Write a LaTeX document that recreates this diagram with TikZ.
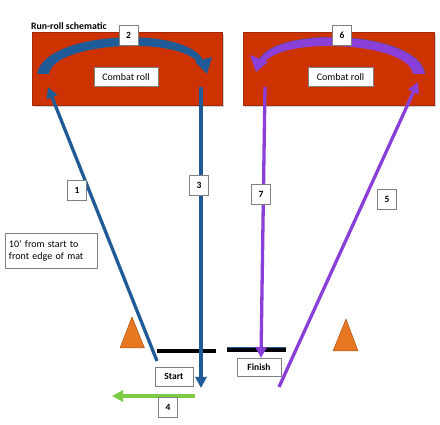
\documentclass[tikz,border=0pt]{standalone}
\usepackage{fontspec}
\setmainfont{Carlito}
\usetikzlibrary{arrows.meta,shadows}
\definecolor{matred}{HTML}{CC3300}
\definecolor{runblue}{HTML}{1F5B96}
\definecolor{runpurple}{HTML}{8B3FD9}
\definecolor{cone}{HTML}{E87722}
\definecolor{coneedge}{HTML}{B0560F}
\definecolor{rungreen}{HTML}{7DCB45}
\definecolor{boxedge}{HTML}{808080}
\begin{document}
\begin{tikzpicture}[x=1pt,y=-1pt,
  mat/.style={fill=matred,draw=matred!80!black,line width=0.4pt,drop shadow={shadow xshift=1.5pt,shadow yshift=-1.5pt,opacity=0.35}},
  lbl/.style={draw=boxedge,fill=white,line width=0.5pt,inner sep=0pt,font=\fontsize{10}{12}\selectfont},
  numbox/.style={lbl,font=\fontsize{9.5}{11}\selectfont\bfseries,minimum width=19pt,minimum height=20pt},
  runline/.style={line width=3.3pt,-{Triangle[length=11pt,width=11pt]}},
  bar/.style={line width=4pt},
  conestyle/.style={fill=cone,draw=coneedge,line width=0.5pt,line join=round}]
\useasboundingbox (0,0) rectangle (440,425);
% mats
\node[mat,minimum width=190pt,minimum height=73pt,inner sep=0pt] (matL) at (127,69) {};
\node[mat,minimum width=191pt,minimum height=73pt,inner sep=0pt] (matR) at (338.5,69) {};
\node[anchor=south west,inner sep=0pt,font=\fontsize{9.8}{11}\selectfont\bfseries] (title) at (31,29.5) {Run-roll schematic};
% arc 2 (blue, tapered)
\fill[runblue] (37,74) .. controls (44,31) and (185,25) .. (203,60)
   -- (198,63) .. controls (180,36) and (53,42) .. (49,74) -- cycle;
\fill[runblue] (207,74) -- (195,62) -- (212,57) -- cycle;
% arc 6 (purple, tapered)
\fill[runpurple] (425,74) .. controls (418,31) and (277,25) .. (259,60)
   -- (264,63) .. controls (282,36) and (409,42) .. (413,74) -- cycle;
\fill[runpurple] (256,72) -- (250,55) -- (268,62) -- cycle;
\draw[runblue!70!runpurple,line width=0.4pt] (425,74) .. controls (418,31) and (277,25) .. (259,60);
% combat roll labels
\node[lbl,minimum width=64pt,minimum height=19pt] (crL) at (126,77) {Combat roll};
\node[lbl,minimum width=65pt,minimum height=19pt] (crR) at (340.5,77) {Combat roll};
\node[numbox] (n2) at (128.5,35.5) {2};
\node[numbox] (n6) at (342,35) {6};
% endpoints
\coordinate (s1) at (157,361);
\coordinate (e1) at (48,87);
\coordinate (s3) at (201,87);
\coordinate (e3) at (201,388);
\coordinate (s7) at (265,87);
\coordinate (e7) at (261,358);
\coordinate (s5) at (279,387);
\coordinate (e5) at (418,82);
\coordinate (s4) at (195,396);
\coordinate (e4) at (112,396);
% cones
\draw[conestyle] (132,317) -- (144.5,348) -- (120,348) -- cycle;
\draw[conestyle] (346,319) -- (358,351) -- (333,351) -- cycle;
% bars
\coordinate (bl1) at (157,351);
\coordinate (bl2) at (216,351);
\coordinate (br1) at (227,350);
\coordinate (br2) at (286,350);
\draw[bar,black] (bl1) -- (bl2);
\draw[runblue,line width=5pt] (br1) -- (br2);
\draw[black,line width=3.6pt] (br1) -- (br2);
% runs
\draw[runline,runblue] (s1) -- (e1);
\draw[runline,runblue] (s3) -- (e3);
\draw[runline,runpurple] (s7) -- (e7);
\draw[runline,runpurple] (s5) -- (e5);
\draw[runline,rungreen] (s4) -- (e4);
% number labels
\node[numbox] (n1) at (77,190) {1};
\node[numbox] (n3) at (199,185.5) {3};
\node[numbox] (n7) at (261,194) {7};
\node[numbox] (n5) at (387,199) {5};
\node[numbox] (n4) at (168,407) {4};
% start / finish
\node[lbl,font=\fontsize{9.5}{11}\selectfont\bfseries,minimum width=38pt,minimum height=19pt] (start) at (174,376.5) {Start};
\node[lbl,font=\fontsize{9.5}{11}\selectfont\bfseries,minimum width=44pt,minimum height=18pt] (finish) at (259,367) {Finish};
% note
\node[lbl,minimum width=92pt,minimum height=35pt,align=left,text width=84pt,inner xsep=4pt] (note) at (51,250.5) {10’ from start to\\front edge of mat};
\end{tikzpicture}
\end{document}
